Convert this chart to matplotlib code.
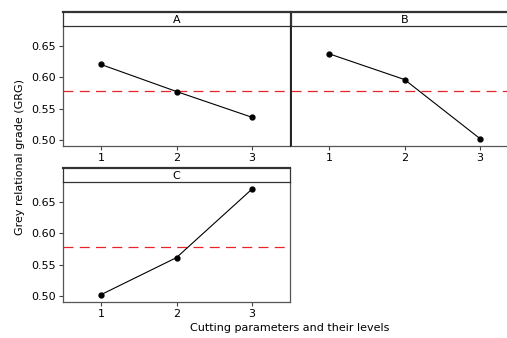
import numpy as np
import matplotlib.pyplot as plt

levels = [1, 2, 3]
grg_a = [0.620, 0.577, 0.536]
grg_b = [0.637, 0.596, 0.502]
grg_c = [0.502, 0.561, 0.670]
mean_grg = 0.578
yticks = [0.50, 0.55, 0.60, 0.65]

W, H = 507, 338
fig = plt.figure(figsize=(W / 100, H / 100), dpi=100)


def box(x0, x1, y0, y1):
    # pixel box -> figure fraction
    return [x0 / W, 1 - y1 / H, (x1 - x0) / W, (y1 - y0) / H]


panels = [
    ('A', grg_a, (63, 290, 26, 146), True),
    ('B', grg_b, (291, 518, 26, 146), False),
    ('C', grg_c, (63, 290, 182, 302), True),
]

for name, vals, (x0, x1, y0, y1), show_y in panels:
    ax = fig.add_axes(box(x0, x1, y0, y1))
    ax.plot(levels, vals, color='black', lw=0.8, marker='o', ms=3.5, zorder=3)
    ax.axhline(mean_grg, color='#e8242a', lw=0.9, dashes=(8, 5))
    ax.set_xlim(0.5, 3.5)
    ax.set_ylim(0.4905, 0.681)
    ax.set_xticks(levels)
    ax.set_yticks(yticks)
    ax.set_yticklabels([f'{v:.2f}' for v in yticks])
    ax.tick_params(labelsize=8, length=3, width=0.8, color='#444444', pad=2)
    if not show_y:
        ax.tick_params(left=False, labelleft=False)
    for s in ax.spines.values():
        s.set_color('#555555')
        s.set_linewidth(0.9)
    ax.spines['top'].set_visible(False)
    if name == 'B':
        ax.spines['left'].set_color('#222222')
        ax.spines['left'].set_linewidth(1.4)

    st = fig.add_axes(box(x0, x1, y0 - 14, y0))
    st.set_xticks([])
    st.set_yticks([])
    for s in st.spines.values():
        s.set_color('#333333')
        s.set_linewidth(0.9)
    st.spines['top'].set_linewidth(1.6)
    st.text(0.5, 0.45, name, ha='center', va='center', fontsize=8)

fig.text(20 / W, 1 - 157 / H, 'Grey relational grade (GRG)', rotation=90,
         ha='center', va='center', fontsize=8)
fig.text(290 / W, 1 - 328 / H, 'Cutting parameters and their levels',
         ha='center', va='center', fontsize=8)

fig.savefig('out.png', dpi=100)
